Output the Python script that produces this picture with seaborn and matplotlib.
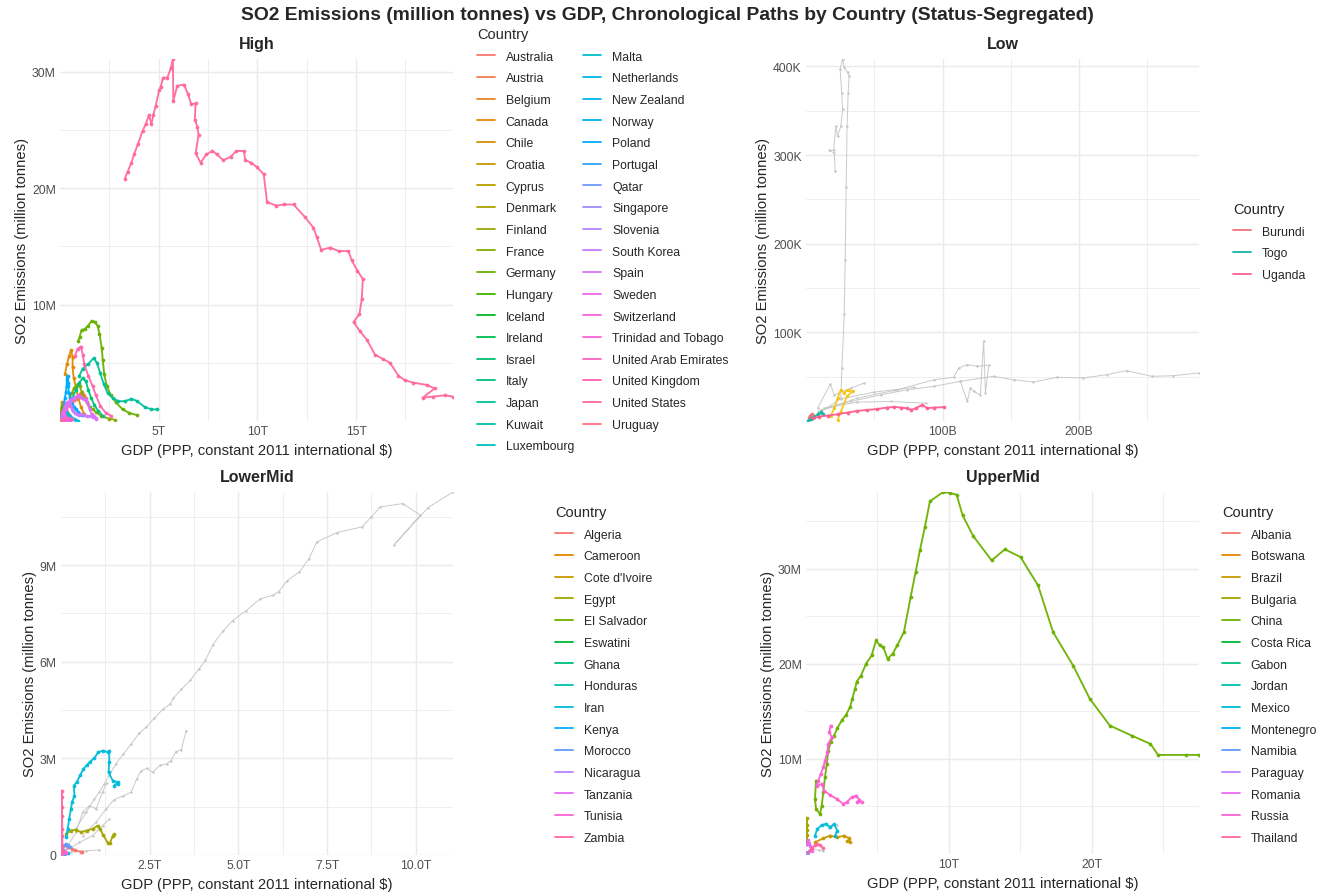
import numpy as np
import pandas as pd
import matplotlib
matplotlib.use("Agg")
import matplotlib.pyplot as plt
from matplotlib.lines import Line2D
from matplotlib.ticker import FixedLocator, FuncFormatter
import seaborn as sns

# ---------------------------------------------------------------------------
# Countries per income status (legend order)
# ---------------------------------------------------------------------------
high_countries = ["Australia", "Austria", "Belgium", "Canada", "Chile", "Croatia",
                  "Cyprus", "Denmark", "Finland", "France", "Germany", "Hungary",
                  "Iceland", "Ireland", "Israel", "Italy", "Japan", "Kuwait",
                  "Luxembourg", "Malta", "Netherlands", "New Zealand", "Norway",
                  "Poland", "Portugal", "Qatar", "Singapore", "Slovenia",
                  "South Korea", "Spain", "Sweden", "Switzerland",
                  "Trinidad and Tobago", "United Arab Emirates", "United Kingdom",
                  "United States", "Uruguay"]
low_countries = ["Burundi", "Togo", "Uganda"]
lowermid_countries = ["Algeria", "Cameroon", "Cote d'Ivoire", "Egypt", "El Salvador",
                      "Eswatini", "Ghana", "Honduras", "Iran", "Kenya", "Morocco",
                      "Nicaragua", "Tanzania", "Tunisia", "Zambia"]
uppermid_countries = ["Albania", "Botswana", "Brazil", "Bulgaria", "China", "Costa Rica",
                      "Gabon", "Jordan", "Mexico", "Montenegro", "Namibia", "Paraguay",
                      "Romania", "Russia", "Thailand"]

# ---------------------------------------------------------------------------
# High income: GDP in trillion $, SO2 in million tonnes (chronological)
# ---------------------------------------------------------------------------
us_gdp = [3.28, 3.42, 3.62, 3.75, 3.95, 4.18, 4.34, 4.51, 4.63, 4.73, 4.85, 5.02, 5.10,
          5.22, 5.44, 5.61, 5.72, 5.74, 5.94, 6.28, 6.48, 6.65, 6.87, 6.83, 6.95, 7.02,
          6.87, 7.12, 7.42, 7.71, 7.96, 8.27, 8.64, 8.94, 9.31, 9.39, 9.68, 9.98, 10.32,
          10.49, 10.96, 11.33, 11.83, 12.42, 12.84, 13.01, 13.23, 13.69, 14.11, 14.61,
          14.78, 15.07, 15.34, 15.29, 15.17, 14.87, 15.20, 15.54, 15.96, 16.38, 16.72,
          17.14, 17.47, 17.89, 18.57, 18.99, 18.37, 18.90, 19.49, 19.91]
us_so2 = [20.8, 21.4, 22.2, 22.9, 23.8, 24.9, 25.5, 26.3, 25.5, 26.3, 27.1, 28.4, 28.7,
          29.5, 29.5, 30.3, 31.1, 27.5, 28.8, 28.9, 28.1, 27.2, 27.3, 25.9, 25.3, 24.6,
          23.0, 22.2, 22.9, 23.2, 22.9, 22.4, 22.7, 23.2, 23.2, 22.4, 22.2, 21.8, 21.2,
          18.8, 18.5, 18.6, 18.6, 17.5, 16.6, 15.8, 14.7, 14.9, 14.6, 14.6, 13.8, 12.9,
          12.2, 10.5, 9.2, 8.5, 7.7, 7.0, 5.7, 5.3, 5.0, 3.9, 3.5, 3.3, 3.1, 2.8, 2.0,
          2.1, 2.2, 2.1]

germany_gdp = [0.93, 0.99, 1.09, 1.26, 1.43, 1.60, 1.77, 1.90, 2.00, 2.11, 2.17, 2.24,
               2.37, 2.58, 2.83, 3.17, 3.50, 3.92]
germany_so2 = [6.9, 7.2, 7.8, 7.9, 8.2, 8.6, 8.5, 8.2, 7.5, 6.3, 5.2, 4.0, 3.0, 2.2, 1.6,
               1.0, 0.7, 0.5]

japan_gdp = [0.98, 1.15, 1.43, 1.70, 1.87, 2.04, 2.21, 2.41, 2.66, 2.95, 3.28, 3.62,
             3.92, 4.29, 4.63, 4.93]
japan_so2 = [3.9, 4.5, 4.9, 5.4, 5.0, 4.1, 3.2, 2.4, 2.0, 1.7, 1.7, 1.9, 1.7, 1.2, 1.0, 1.0]

uk_gdp = [0.76, 0.89, 1.06, 1.15, 1.23, 1.43, 1.65, 1.82, 2.04, 2.32, 2.58]
uk_so2 = [5.6, 6.2, 6.4, 5.7, 4.9, 3.9, 3.0, 2.2, 1.3, 0.7, 0.45]

canada_gdp = [0.25, 0.35, 0.47, 0.56, 0.64, 0.64, 0.69, 0.81, 0.92, 1.06, 1.23]
canada_so2 = [4.0, 4.9, 5.6, 6.1, 5.5, 4.6, 3.7, 2.9, 2.0, 1.2, 0.6]

italy_gdp = [0.64, 0.81, 0.98, 1.15, 1.31, 1.43, 1.57, 1.73, 1.93, 2.16]
italy_so2 = [2.0, 2.7, 3.3, 3.7, 3.4, 2.7, 2.0, 1.4, 0.9, 0.45]

poland_gdp = [0.20, 0.25, 0.30, 0.33, 0.35, 0.37, 0.38, 0.40, 0.42, 0.45, 0.50, 0.60,
              0.70, 0.80, 0.90, 1.00, 1.10]
poland_so2 = [1.5, 2.0, 2.5, 3.0, 3.5, 3.7, 3.9, 3.3, 3.0, 2.4, 2.0, 1.5, 1.2, 1.0, 0.8,
              0.6, 0.5]

france_gdp = [0.50, 0.60, 0.70, 0.80, 0.90, 1.00, 1.10, 1.20, 1.35, 1.50, 1.65, 1.80,
              2.10, 2.50, 2.80]
france_so2 = [2.0, 2.4, 2.8, 3.0, 3.2, 3.0, 2.5, 2.0, 1.6, 1.2, 1.0, 0.8, 0.4, 0.2, 0.1]

spain_gdp = [0.30, 0.40, 0.50, 0.60, 0.70, 0.80, 0.90, 1.00, 1.10, 1.20, 1.30, 1.40,
             1.50, 1.60, 1.70, 1.80]
spain_so2 = [1.0, 1.4, 1.8, 1.9, 2.0, 2.1, 2.2, 2.1, 2.0, 1.9, 1.8, 1.5, 1.0, 0.6, 0.4,
             0.2]

korea_gdp = [0.10, 0.15, 0.20, 0.25, 0.30, 0.35, 0.42, 0.50, 0.55, 0.60, 0.68, 0.75,
             0.85, 0.95, 1.05, 1.20, 1.35, 1.50, 1.65, 1.80]
korea_so2 = [0.5, 0.8, 1.1, 1.3, 1.5, 1.6, 1.55, 1.6, 1.3, 1.0, 0.9, 0.7, 0.6, 0.55,
             0.6, 0.5, 0.45, 0.4, 0.35, 0.3]

high_small = {
    "Australia": ([0.10, 0.20, 0.30, 0.40, 0.50, 0.60, 0.70, 0.80, 0.90, 1.00, 1.05,
                   1.10, 1.20, 1.30],
                  [0.5, 0.8, 1.0, 1.3, 1.5, 1.6, 1.8, 1.9, 2.1, 2.3, 2.4, 2.3, 2.2, 2.0]),
    "Austria": ([0.10, 0.15, 0.20, 0.30, 0.40], [0.40, 0.35, 0.20, 0.05, 0.02]),
    "Belgium": ([0.10, 0.15, 0.20, 0.25, 0.30, 0.35, 0.40, 0.45, 0.50],
                [0.6, 0.8, 0.9, 0.7, 0.6, 0.3, 0.2, 0.1, 0.05]),
    "Chile": ([0.03, 0.05, 0.08, 0.10, 0.12, 0.15, 0.20, 0.25, 0.30, 0.35, 0.40, 0.45],
              [0.3, 0.8, 1.2, 1.6, 1.5, 1.3, 1.2, 1.5, 1.0, 0.8, 0.6, 0.5]),
    "Croatia": ([0.04, 0.06, 0.08, 0.10], [0.15, 0.20, 0.10, 0.03]),
    "Cyprus": ([0.01, 0.02, 0.03], [0.02, 0.04, 0.03]),
    "Denmark": ([0.08, 0.12, 0.15, 0.25], [0.30, 0.45, 0.20, 0.02]),
    "Finland": ([0.06, 0.10, 0.15, 0.22], [0.40, 0.55, 0.20, 0.05]),
    "Hungary": ([0.06, 0.08, 0.10, 0.12, 0.14, 0.15, 0.18, 0.20, 0.25],
                [0.7, 0.9, 1.1, 1.2, 1.0, 0.9, 0.6, 0.5, 0.05]),
    "Iceland": ([0.005, 0.01, 0.015], [0.01, 0.05, 0.07]),
    "Ireland": ([0.04, 0.08, 0.12, 0.20, 0.30], [0.15, 0.20, 0.18, 0.05, 0.02]),
    "Israel": ([0.05, 0.10, 0.15, 0.25, 0.35], [0.10, 0.20, 0.25, 0.15, 0.05]),
    "Kuwait": ([0.05, 0.10, 0.15, 0.20], [0.10, 0.20, 0.30, 0.25]),
    "Luxembourg": ([0.01, 0.02, 0.05], [0.03, 0.02, 0.01]),
    "Malta": ([0.005, 0.01, 0.02], [0.01, 0.02, 0.01]),
    "Netherlands": ([0.10, 0.20, 0.25, 0.30, 0.35, 0.40, 0.50, 0.60, 0.70, 0.80, 0.90],
                    [0.5, 0.7, 0.75, 0.8, 0.7, 0.5, 0.4, 0.3, 0.15, 0.05, 0.03]),
    "New Zealand": ([0.05, 0.10, 0.15, 0.20], [0.05, 0.07, 0.08, 0.06]),
    "Norway": ([0.05, 0.10, 0.20, 0.35], [0.20, 0.15, 0.05, 0.02]),
    "Portugal": ([0.10, 0.20, 0.25, 0.30], [0.20, 0.35, 0.30, 0.10]),
    "Qatar": ([0.05, 0.15, 0.30], [0.05, 0.10, 0.15]),
    "Singapore": ([0.02, 0.10, 0.20, 0.40], [0.10, 0.20, 0.15, 0.05]),
    "Slovenia": ([0.03, 0.04, 0.05, 0.07], [0.20, 0.25, 0.10, 0.01]),
    "Sweden": ([0.10, 0.12, 0.15, 0.18, 0.20, 0.25, 0.30, 0.35, 0.40],
               [0.6, 0.8, 0.9, 0.8, 0.6, 0.4, 0.2, 0.1, 0.05]),
    "Switzerland": ([0.10, 0.20, 0.30, 0.50], [0.10, 0.12, 0.05, 0.01]),
    "Trinidad and Tobago": ([0.01, 0.03, 0.04], [0.02, 0.05, 0.04]),
    "United Arab Emirates": ([0.05, 0.20, 0.40, 0.60], [0.05, 0.20, 0.30, 0.20]),
    "Uruguay": ([0.02, 0.04, 0.06], [0.02, 0.03, 0.02]),
}

# ---------------------------------------------------------------------------
# Low income: GDP in billion $, SO2 in thousand tonnes
# ---------------------------------------------------------------------------
uganda_gdp = [4.9, 9.7, 15.8, 23.1, 30.4, 37.7, 45.0, 52.3, 59.6, 64.5, 69.3, 74.2, 77.1,
              80.3, 85.2, 88.8, 93.7, 101.0]
uganda_so2 = [3.1, 5.0, 6.1, 7.6, 9.5, 11.4, 12.5, 13.6, 15.2, 15.9, 15.2, 14.4, 12.5,
              14.4, 18.2, 14.4, 15.2, 15.6]
togo_gdp = [1.2, 3.6, 6.1, 9.1, 10.9, 12.2]
togo_so2 = [0.0, 2.3, 5.0, 7.6, 9.9, 7.6]
burundi_gdp = [2.0, 2.9, 4.2, 4.9]
burundi_so2 = [3.1, 6.1, 7.6, 6.1]

# unlabelled paths in the low-income panel
low_gold_gdp = [18.2, 20.7, 23.1, 25.5, 28.0, 30.4, 34.2, 30.0, 25.5, 23.1]
low_gold_so2 = [6.1, 14.4, 25.8, 35.2, 31.5, 35.2, 33.4, 28.0, 10.7, 1.1]
low_grey = {
    "a": ([25.5, 26.3, 28.0, 28.7, 29.4, 30.1, 30.9, 31.6, 30.4, 28.0, 26.8, 25.0, 26.1,
           26.8, 25.5, 23.1, 21.9, 20.2, 17.0, 20.7, 21.4],
          [25.8, 59.9, 120.5, 181.1, 264.4, 332.6, 370.5, 389.4, 393.2, 398.9, 408.4,
           397.0, 370.5, 351.6, 332.6, 321.3, 332.6, 305.3, 305.3, 302.3, 281.5]),
    "b": ([8.5, 32.8, 54.7, 74.2, 93.7, 113.1, 137.4, 152.0, 166.6, 183.7, 203.1, 220.2,
           234.8, 253.1, 268.8, 287.8],
          [10.7, 22.0, 29.5, 35.2, 39.1, 44.8, 50.4, 46.6, 44.0, 49.3, 48.5, 52.3, 56.8,
           50.4, 51.1, 54.2]),
    "c": ([10.9, 37.7, 66.9, 93.7, 108.2, 111.9, 118.0, 125.3, 133.8, 131.4, 130.1, 127.7,
           122.8, 120.4, 118.0, 113.1],
          [12.5, 25.8, 35.2, 46.6, 49.3, 59.9, 63.6, 61.8, 62.9, 31.5, 90.2, 29.5, 33.4,
           37.2, 22.0, 44.8]),
    "d": ([8.5, 17.8, 20.7, 32.8, 42.6], [14.4, 41.7, 29.5, 37.2, 42.8]),
    "e": ([10.9, 25.5, 49.9, 64.5, 79.1], [10.7, 25.0, 32.6, 35.2, 37.9]),
    "f": ([13.4, 37.7, 62.0, 87.6], [14.4, 21.3, 22.0, 20.1]),
}

# ---------------------------------------------------------------------------
# Lower-middle income: GDP in trillion $, SO2 in million tonnes
# ---------------------------------------------------------------------------
iran_gdp = [0.14, 0.19, 0.23, 0.28, 0.31, 0.38, 0.36, 0.44, 0.54, 0.63, 0.72, 0.82, 0.94,
            1.05, 1.19, 1.32, 1.36, 1.36, 1.34, 1.46, 1.60, 1.50, 1.60]
iran_so2 = [0.55, 0.81, 1.12, 1.43, 1.64, 1.84, 2.15, 2.26, 2.47, 2.67, 2.78, 2.90, 3.01,
            3.19, 3.24, 3.19, 3.24, 2.88, 2.57, 2.31, 2.26, 2.15, 2.21]
egypt_gdp = [0.14, 0.28, 0.42, 0.56, 0.72, 0.89, 1.03, 1.10, 1.19, 1.32, 1.38, 1.46, 1.50]
egypt_so2 = [0.65, 0.76, 0.79, 0.71, 0.76, 0.81, 0.91, 0.81, 0.62, 0.37, 0.37, 0.60, 0.65]
zambia_gdp = [0.020, 0.020, 0.025, 0.020, 0.020, 0.030, 0.035, 0.040, 0.050]
zambia_so2 = [0.10, 0.60, 1.20, 1.80, 2.00, 1.50, 0.80, 0.30, 0.10]

lowermid_small = {
    "Algeria": ([0.10, 0.20, 0.30, 0.40, 0.55, 0.60], [0.30, 0.25, 0.20, 0.15, 0.10, 0.08]),
    "Cameroon": ([0.02, 0.05, 0.08], [0.02, 0.03, 0.03]),
    "Cote d'Ivoire": ([0.02, 0.05, 0.08], [0.03, 0.04, 0.05]),
    "El Salvador": ([0.01, 0.03, 0.05], [0.02, 0.03, 0.02]),
    "Eswatini": ([0.005, 0.01], [0.01, 0.02]),
    "Ghana": ([0.02, 0.08, 0.15], [0.02, 0.05, 0.06]),
    "Honduras": ([0.01, 0.03, 0.05], [0.02, 0.04, 0.03]),
    "Kenya": ([0.03, 0.08, 0.20], [0.02, 0.04, 0.05]),
    "Morocco": ([0.05, 0.10, 0.15, 0.20, 0.25], [0.15, 0.30, 0.35, 0.30, 0.25]),
    "Nicaragua": ([0.01, 0.02, 0.03], [0.02, 0.03, 0.02]),
    "Tanzania": ([0.02, 0.05, 0.10, 0.14], [0.02, 0.05, 0.08, 0.05]),
    "Tunisia": ([0.02, 0.05, 0.08, 0.10], [0.05, 0.10, 0.12, 0.10]),
}

india_gdp = [0.42, 0.71, 0.94, 1.08, 1.22, 1.36, 1.55, 1.76, 1.98, 2.21, 2.40, 2.63, 2.87,
             3.08, 3.17, 3.39, 3.64, 3.88, 4.07, 4.28, 4.58, 4.84, 5.22, 5.62, 5.97, 6.14,
             6.37, 6.72, 6.99, 7.21, 7.78, 8.49, 8.75, 9.00, 9.64, 10.13, 9.40, 10.34, 11.05]
india_so2 = [0.81, 1.33, 1.74, 1.95, 2.21, 2.47, 2.83, 3.14, 3.45, 3.79, 3.97, 4.25, 4.52,
             4.69, 4.87, 5.14, 5.42, 5.76, 6.04, 6.53, 6.97, 7.28, 7.59, 7.96, 8.06, 8.18,
             8.51, 8.79, 9.20, 9.72, 10.01, 10.19, 10.50, 10.81, 10.91, 10.55, 9.64, 10.78,
             11.27]
lowermid_grey = {
    "a": ([0.61, 0.99, 1.27, 1.50, 1.76, 1.98, 2.13, 2.26, 2.42, 2.58, 2.79, 2.98, 3.10,
           3.24, 3.39, 3.53],
          [0.60, 1.02, 1.43, 1.72, 1.84, 1.95, 2.36, 2.62, 2.69, 2.57, 2.78, 2.83, 2.93,
           3.21, 3.27, 3.86]),
    "b": ([0.14, 0.42, 0.61, 0.80, 0.99, 1.17, 1.29], [0.19, 0.70, 1.33, 1.53, 1.43, 1.95, 2.24]),
    "c": ([0.05, 0.52, 0.89, 1.17, 1.36], [0.08, 0.39, 0.60, 0.91, 1.12]),
    "d": ([0.28, 0.71, 1.08], [0.10, 0.13, 0.16]),
}

# ---------------------------------------------------------------------------
# Upper-middle income: GDP in trillion $, SO2 in million tonnes
# ---------------------------------------------------------------------------
china_gdp = [0.70, 0.63, 0.70, 0.98, 1.10, 1.21, 1.33, 1.45, 1.56, 1.73, 1.96, 2.19, 2.50,
             2.80, 3.08, 3.24, 3.43, 3.55, 3.85, 4.20, 4.59, 4.90, 5.17, 5.41, 5.71, 6.06,
             6.38, 6.85, 7.32, 7.67, 7.97, 8.32, 8.67, 9.60, 10.07, 10.54, 10.96, 11.70,
             12.99, 13.92, 15.01, 16.24, 17.29, 18.69, 19.86, 21.26, 22.78, 24.10, 24.64,
             26.62, 27.50]
china_so2 = [7.72, 5.79, 4.74, 4.21, 5.09, 6.49, 8.07, 9.47, 10.88, 11.82, 12.46, 13.23,
             14.04, 14.63, 15.44, 16.32, 17.37, 18.14, 18.77, 20.00, 20.88, 22.46, 21.93,
             21.75, 20.53, 21.05, 21.93, 23.33, 27.02, 29.65, 31.93, 34.39, 37.09, 38.07,
             37.96, 37.79, 35.61, 33.44, 30.88, 32.04, 31.23, 28.24, 23.33, 19.82, 16.32,
             13.51, 12.46, 11.58, 10.42, 10.42, 10.42]
russia_gdp = [1.72, 1.63, 1.80, 1.56, 1.49, 1.33, 1.21, 1.03, 0.86, 0.75, 1.10, 1.26, 1.68,
              2.15, 2.61, 2.89, 3.19, 3.50, 3.73, 3.59, 3.90]
russia_so2 = [13.51, 12.81, 12.28, 11.58, 10.70, 9.82, 9.12, 8.42, 7.72, 7.12, 7.37, 6.67,
              6.21, 5.79, 5.26, 5.51, 5.96, 6.14, 5.72, 5.44, 5.51]
mexico_gdp = [0.63, 0.79, 1.10, 1.40, 1.68, 1.96, 2.19, 2.03]
mexico_so2 = [1.93, 2.63, 3.05, 3.16, 2.81, 3.16, 2.46, 1.93]
brazil_gdp = [0.63, 1.21, 1.68, 2.19, 2.66, 3.03, 3.08, 2.85]
brazil_so2 = [1.23, 1.65, 1.93, 1.75, 1.93, 1.65, 1.30, 1.40]

uppermid_small = {
    "Albania": ([0.01, 0.02, 0.03], [0.02, 0.05, 0.03]),
    "Botswana": ([0.01, 0.03, 0.04], [0.05, 0.08, 0.06]),
    "Bulgaria": ([0.05, 0.06, 0.05, 0.06, 0.07, 0.08], [1.0, 2.0, 3.0, 3.8, 2.5, 1.0]),
    "Costa Rica": ([0.02, 0.05, 0.08], [0.01, 0.02, 0.02]),
    "Gabon": ([0.01, 0.02, 0.03], [0.02, 0.03, 0.02]),
    "Jordan": ([0.02, 0.05, 0.09], [0.08, 0.12, 0.10]),
    "Montenegro": ([0.005, 0.01], [0.05, 0.08]),
    "Namibia": ([0.01, 0.02, 0.03], [0.01, 0.02, 0.02]),
    "Paraguay": ([0.02, 0.05, 0.08], [0.01, 0.02, 0.02]),
    "Romania": ([0.10, 0.15, 0.20, 0.30, 0.40], [1.0, 1.5, 1.2, 0.8, 0.3]),
    "Thailand": ([0.20, 0.40, 0.60, 0.80, 1.00, 1.20], [0.3, 0.6, 0.9, 1.1, 0.9, 0.6]),
}
uppermid_grey = {
    "a": ([0.50, 0.90, 1.20], [0.50, 0.40, 0.30]),
    "b": ([1.60, 1.95, 2.20], [2.70, 3.00, 3.10]),
}

TITLE = ("SO2 Emissions (million tonnes) vs GDP, Chronological Paths by Country "
         "(Status-Segregated)")
XLABEL = "GDP (PPP, constant 2011 international $)"
YLABEL = "SO2 Emissions (million tonnes)"


# ---------------------------------------------------------------------------
def hue_colors(n, chroma=100.0, lum=65.0):
    """Evenly spaced HCL hues (ggplot-style discrete palette)."""
    hues = np.linspace(15, 375, n + 1)[:-1]
    xn, yn, zn = 95.047, 100.0, 108.883
    un = 4 * xn / (xn + 15 * yn + 3 * zn)
    vn = 9 * yn / (xn + 15 * yn + 3 * zn)
    y = yn * ((lum + 16) / 116) ** 3
    m = np.array([[3.2406, -1.5372, -0.4986],
                  [-0.9689, 1.8758, 0.0415],
                  [0.0557, -0.2040, 1.0570]])
    cols = []
    for h in hues:
        u = chroma * np.cos(np.radians(h))
        v = chroma * np.sin(np.radians(h))
        up = u / (13 * lum) + un
        vp = v / (13 * lum) + vn
        x = y * 9 * up / (4 * vp)
        z = y * (12 - 3 * up - 20 * vp) / (4 * vp)
        rgb = m @ (np.array([x, y, z]) / 100.0)
        rgb = np.clip(rgb, 0, None)
        rgb = np.where(rgb <= 0.0031308, 12.92 * rgb, 1.055 * rgb ** (1 / 2.4) - 0.055)
        cols.append(tuple(np.clip(rgb, 0, 1)))
    return cols


def build_frame(paths, xscale, yscale):
    rows = []
    for name, (gx, sy) in paths.items():
        assert len(gx) == len(sy), name
        for i, (a, b) in enumerate(zip(gx, sy)):
            rows.append((name, i, a * xscale, b * yscale))
    return pd.DataFrame(rows, columns=["Country", "step", "GDP", "SO2"])


def short_formatter(unit, suffix, decimals=0):
    def fmt(v, _pos):
        if abs(v) < 1e-9:
            return "0"
        return f"{v / unit:.{decimals}f}{suffix}"
    return FuncFormatter(fmt)


def minor_between(major, lo, hi):
    step = major[1] - major[0]
    vals = np.arange(major[0] - step / 2, hi + 1e-9 * step, step)
    return [v for v in vals if lo <= v <= hi]


GRID = "#EBEBEB"
GREY_PATH = "#C4C4C4"


def draw_panel(ax, frame, grey_frame, order, palette, xunit, xsuf, xdec,
               yunit, ysuf, ydec, xmajor, ymajor, title, extra=None):
    if grey_frame is not None and len(grey_frame):
        sns.lineplot(data=grey_frame, x="GDP", y="SO2", units="Country", estimator=None,
                     sort=False, color=GREY_PATH, linewidth=0.7, marker="o",
                     markersize=1.8, markeredgewidth=0, alpha=0.9, ax=ax, legend=False)
    if extra is not None:
        sns.lineplot(data=extra[0], x="GDP", y="SO2", units="Country", estimator=None,
                     sort=False, color=extra[1], linewidth=1.2, marker="o",
                     markersize=2.4, markeredgewidth=0, ax=ax, legend=False)
    sns.lineplot(data=frame, x="GDP", y="SO2", hue="Country", hue_order=order,
                 palette=palette, estimator=None, sort=False, linewidth=1.35,
                 marker="o", markersize=2.7, markeredgewidth=0, alpha=0.95,
                 ax=ax, legend=False)

    allx = pd.concat([d["GDP"] for d in (frame, grey_frame) if d is not None])
    ally = pd.concat([d["SO2"] for d in (frame, grey_frame) if d is not None])
    xlim = (0, allx.max())
    ylim = (0, ally.max())
    ax.set_xlim(*xlim)
    ax.set_ylim(*ylim)

    xmaj = [v * xunit for v in xmajor]
    ymaj = [v * yunit for v in ymajor]
    ax.xaxis.set_major_locator(FixedLocator(xmaj))
    ax.yaxis.set_major_locator(FixedLocator(ymaj))
    ax.xaxis.set_minor_locator(FixedLocator(minor_between(xmaj, *xlim)))
    ax.yaxis.set_minor_locator(FixedLocator(minor_between(ymaj, *ylim)))
    ax.xaxis.set_major_formatter(short_formatter(xunit, xsuf, xdec))
    ax.yaxis.set_major_formatter(short_formatter(yunit, ysuf, ydec))

    ax.grid(which="major", color=GRID, linewidth=1.05, zorder=0)
    ax.grid(which="minor", color=GRID, linewidth=0.55, zorder=0)
    ax.set_axisbelow(True)
    for sp in ax.spines.values():
        sp.set_visible(False)
    ax.tick_params(which="both", length=0, labelsize=8.8, labelcolor="#4D4D4D", pad=3)
    ax.set_xlabel(XLABEL, fontsize=10.6, labelpad=4)
    ax.set_ylabel(YLABEL, fontsize=10.6, labelpad=2)
    ax.set_title(title, fontsize=11.5, fontweight="bold", pad=8)


def add_legend(fig, order, palette, x, y, ncol=1):
    handles = [Line2D([], [], color=palette[c], linewidth=1.3) for c in order]
    leg = fig.legend(handles, order, loc="upper left", bbox_to_anchor=(x, y),
                     bbox_transform=fig.transFigure, ncol=ncol, frameon=False,
                     title="Country", title_fontsize=10.5, fontsize=8.8,
                     handlelength=1.45, handletextpad=0.9, labelspacing=0.79,
                     columnspacing=0.75, borderpad=0, borderaxespad=0,
                     alignment="left")
    return leg


# ---------------------------------------------------------------------------
sns.set_style("white")
plt.rcParams["font.family"] = ["Liberation Sans", "DejaVu Sans"]

fig = plt.figure(figsize=(13.3, 8.95), dpi=100)
W, H = 1330.0, 895.0


def rect(l, t, r, b):
    return [l / W, 1 - b / H, (r - l) / W, (b - t) / H]


ax_high = fig.add_axes(rect(60, 60, 453, 422))
ax_low = fig.add_axes(rect(806, 60, 1199, 422))
ax_lmid = fig.add_axes(rect(61, 493, 453, 856))
ax_umid = fig.add_axes(rect(806, 493, 1199, 855))

# High
high_paths = {
    "United States": (us_gdp, us_so2), "Germany": (germany_gdp, germany_so2),
    "Japan": (japan_gdp, japan_so2), "United Kingdom": (uk_gdp, uk_so2),
    "Canada": (canada_gdp, canada_so2), "Italy": (italy_gdp, italy_so2),
    "Poland": (poland_gdp, poland_so2), "France": (france_gdp, france_so2),
    "Spain": (spain_gdp, spain_so2), "South Korea": (korea_gdp, korea_so2),
}
high_paths.update(high_small)
high_df = build_frame(high_paths, 1e12, 1e6)
high_pal = dict(zip(high_countries, hue_colors(len(high_countries))))
draw_panel(ax_high, high_df, None, high_countries, high_pal, 1e12, "T", 0,
           1e6, "M", 0, [5, 10, 15], [10, 20, 30], "High")

# Low
low_df = build_frame({"Burundi": (burundi_gdp, burundi_so2), "Togo": (togo_gdp, togo_so2),
                      "Uganda": (uganda_gdp, uganda_so2)}, 1e9, 1e3)
low_grey_df = build_frame(low_grey, 1e9, 1e3)
low_gold_df = build_frame({"gold": (low_gold_gdp, low_gold_so2)}, 1e9, 1e3)
low_pal = {"Burundi": "#F0727C", "Togo": "#12B5A6", "Uganda": "#FF5F8E"}
draw_panel(ax_low, low_df, low_grey_df, low_countries, low_pal, 1e9, "B", 0,
           1e3, "K", 0, [100, 200], [100, 200, 300, 400], "Low",
           extra=(low_gold_df, "#F5C518"))

# Lower-middle
lmid_paths = {"Iran": (iran_gdp, iran_so2), "Egypt": (egypt_gdp, egypt_so2),
              "Zambia": (zambia_gdp, zambia_so2)}
lmid_paths.update(lowermid_small)
lmid_df = build_frame(lmid_paths, 1e12, 1e6)
lmid_grey = {"India": (india_gdp, india_so2)}
lmid_grey.update(lowermid_grey)
lmid_grey_df = build_frame(lmid_grey, 1e12, 1e6)
lmid_pal = dict(zip(lowermid_countries, hue_colors(len(lowermid_countries))))
draw_panel(ax_lmid, lmid_df, lmid_grey_df, lowermid_countries, lmid_pal, 1e12, "T", 1,
           1e6, "M", 0, [2.5, 5.0, 7.5, 10.0], [0, 3, 6, 9], "LowerMid")

# Upper-middle
umid_paths = {"China": (china_gdp, china_so2), "Russia": (russia_gdp, russia_so2),
              "Mexico": (mexico_gdp, mexico_so2), "Brazil": (brazil_gdp, brazil_so2)}
umid_paths.update(uppermid_small)
umid_df = build_frame(umid_paths, 1e12, 1e6)
umid_grey_df = build_frame(uppermid_grey, 1e12, 1e6)
umid_pal = dict(zip(uppermid_countries, hue_colors(len(uppermid_countries))))
draw_panel(ax_umid, umid_df, umid_grey_df, uppermid_countries, umid_pal, 1e12, "T", 0,
           1e6, "M", 0, [10, 20], [10, 20, 30], "UpperMid")

# Legends
add_legend(fig, high_countries, high_pal, 477 / W, 1 - 28 / H, ncol=2)
add_legend(fig, low_countries, low_pal, 1233 / W, 1 - 203 / H)
add_legend(fig, lowermid_countries, lmid_pal, 555 / W, 1 - 506 / H)
add_legend(fig, uppermid_countries, umid_pal, 1222 / W, 1 - 506 / H)

fig.text(667 / W, 1 - 15 / H, TITLE, ha="center", va="center", fontsize=13.9,
         fontweight="bold")

fig.savefig("out.png", dpi=100)
